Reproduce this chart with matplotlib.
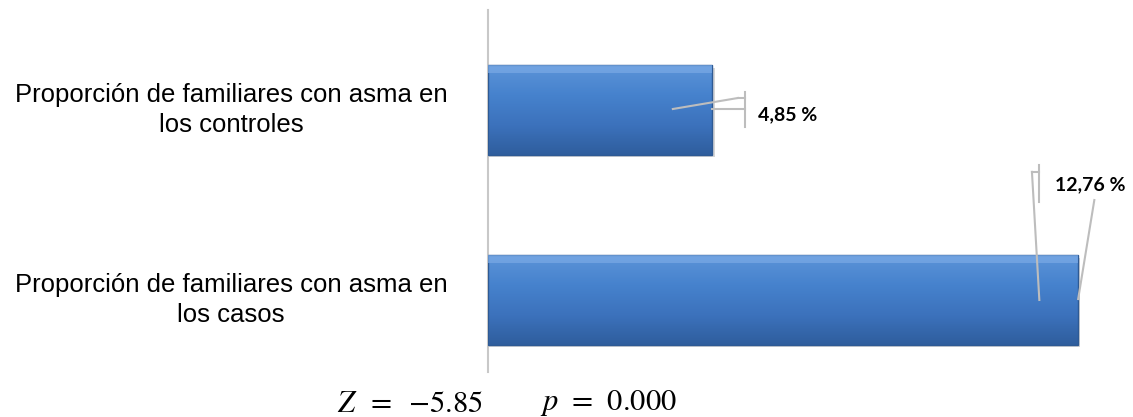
import numpy as np
import matplotlib.pyplot as plt
from matplotlib.colors import LinearSegmentedColormap
from matplotlib.transforms import blended_transform_factory

categories = ["Proporción de familiares con asma en\nlos casos",
              "Proporción de familiares con asma en\nlos controles"]
values = [12.76, 4.85]
labels = ["12,76 %", "4,85 %"]

plt.rcParams["mathtext.fontset"] = "stix"

fig = plt.figure(figsize=(11.33, 4.17), dpi=100)
ax = fig.add_axes([488 / 1133, 45 / 417, 647 / 1133, 362 / 417])

ypos = np.arange(len(values))
h = 0.47
ax.set_xlim(0, 14)
ax.set_ylim(-0.379, 1.526)

# bar faces with a vertical gradient, like the office style bars
cmap = LinearSegmentedColormap.from_list("b", ["#5B93D8", "#4682CD", "#3C72BC", "#2F5E9E"])
grad = np.linspace(0, 1, 64).reshape(-1, 1)
for y, v in zip(ypos, values):
    # shadow
    ax.barh(y - 0.015, v + 0.06, height=h, left=0.0, color="#D6D6D6", zorder=1)
    ax.imshow(grad, aspect="auto", cmap=cmap, extent=(0, v, y - h / 2, y + h / 2),
              origin="upper", zorder=2)
    ax.barh(y, v, height=h, facecolor="none", edgecolor="#2E5A94", linewidth=1, zorder=3)
    # bevel highlight along the top
    ax.barh(y + h / 2 - 0.02, v, height=0.04, color="#7AAAE6", alpha=0.7, zorder=3, linewidth=0)

# category labels, centred in the left margin
tr = blended_transform_factory(fig.transFigure, ax.transData)
for y, c in zip(ypos, categories):
    ax.text(231 / 1133, y, c, transform=tr, fontsize=18.5, family="Liberation Sans",
            ha="center", va="center", linespacing=1.3)

ax.set_yticks([])
ax.set_xticks([])
for s in ["top", "right", "bottom"]:
    ax.spines[s].set_visible(False)
ax.spines["left"].set_color("#C8C8C8")
ax.spines["left"].set_linewidth(1.5)

grey = "#BDBDBD"
# leader lines for the controls bar
v = values[1]
ax.plot([v - 0.85, v + 0.56], [1.005, 1.063], color=grey, lw=1.5, zorder=4)
ax.plot([v, v + 0.71], [1.005, 1.005], color=grey, lw=1.5, zorder=4)
ax.plot([v + 0.71, v + 0.71], [0.911, 1.095], color=grey, lw=1.5, zorder=4)
ax.plot([v + 0.56, v + 0.71], [1.063, 1.063], color=grey, lw=1.5, zorder=4)
ax.text(v + 0.99, 0.974, labels[1], fontsize=14, fontweight="bold",
        family="Lato", va="center", ha="left")

# leader lines for the cases bar
v = values[0]
ax.plot([v - 0.83, v - 0.99], [0.0, 0.674], color=grey, lw=1.5, zorder=4)
ax.plot([v - 0.99, v - 0.83], [0.674, 0.674], color=grey, lw=1.5, zorder=4)
ax.plot([v - 0.83, v - 0.83], [0.516, 0.71], color=grey, lw=1.5, zorder=4)
ax.plot([v + 0.01, v + 0.36], [0.005, 0.526], color=grey, lw=1.5, zorder=4)
ax.text(v - 0.49, 0.605, labels[0], fontsize=14, fontweight="bold",
        family="Lato", va="center", ha="left")

fig.text(337 / 1133, 1 - 403 / 417, r"$Z\;\;=\;\;{-}5.85$", fontsize=22, ha="left", va="center")
fig.text(540 / 1133, 1 - 403 / 417, r"$p\;\,=\;\,0.000$", fontsize=22, ha="left", va="center")

fig.savefig("out.png", dpi=100)
